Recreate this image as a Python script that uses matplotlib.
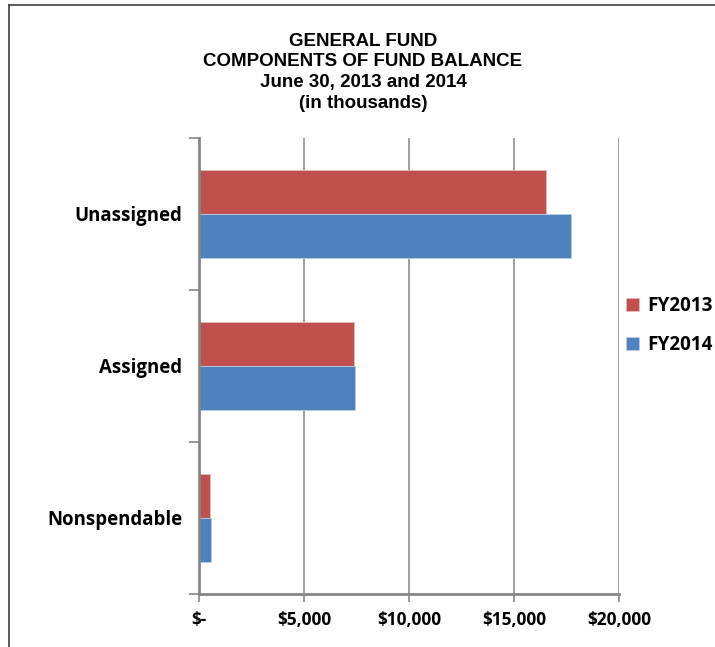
import numpy as np
import matplotlib
matplotlib.use("Agg")
import matplotlib.pyplot as plt
from matplotlib.lines import Line2D
from matplotlib.ticker import FuncFormatter

categories = ['Nonspendable', 'Assigned', 'Unassigned']
fy2013 = [520, 7400, 16500]
fy2014 = [590, 7450, 17700]
series_names = ['FY2013', 'FY2014']
title_lines = ['GENERAL FUND', 'COMPONENTS OF FUND BALANCE',
               'June 30, 2013 and 2014', '(in thousands)']

red = '#C0504D'
blue = '#4F81BD'
grey = '#868686'
label_font = 'Open Sans'

fig = plt.figure(figsize=(7.15, 6.47), dpi=100)
ax = fig.add_axes([199 / 715, 1 - 594 / 647, 420 / 715, 456 / 647])

y = np.arange(len(categories))
h = 0.29
ax.barh(y + h / 2, fy2013, height=h, color=red, edgecolor='#E6B9B8', linewidth=0.6,
        label=series_names[0], zorder=3)
ax.barh(y - h / 2, fy2014, height=h, color=blue, edgecolor='#B9CDE5', linewidth=0.6,
        label=series_names[1], zorder=3)

ax.set_xlim(0, 20000)
ax.set_ylim(-0.5, 2.5)
ax.set_xticks([0, 5000, 10000, 15000, 20000])
ax.xaxis.set_major_formatter(FuncFormatter(lambda v, p: '$-' if v == 0 else f'${v:,.0f}'))

# category labels centered between boundary ticks
ax.set_yticks([-0.5, 0.5, 1.5, 2.5])
ax.set_yticklabels([])
ax.set_yticks(y, minor=True)
ax.set_yticklabels(categories, minor=True)
ax.tick_params(axis='y', which='minor', length=0, pad=12)
ax.tick_params(axis='y', which='major', length=7, width=1.2, color=grey)
ax.tick_params(axis='x', length=6, width=1.2, color=grey, pad=6)

for lab in ax.get_yticklabels(minor=True):
    lab.set_fontfamily(label_font)
    lab.set_fontweight('bold')
    lab.set_fontsize(13.4)
for lab in ax.get_xticklabels():
    lab.set_fontfamily(label_font)
    lab.set_fontweight('bold')
    lab.set_fontsize(12.4)

ax.grid(axis='x', color=grey, linewidth=1.1, zorder=0)
for s in ['top', 'right']:
    ax.spines[s].set_visible(False)
for s in ['left', 'bottom']:
    ax.spines[s].set_color(grey)
    ax.spines[s].set_linewidth(2)
ax.spines['left'].set_zorder(4)

leg = fig.legend(loc='upper left', bbox_to_anchor=(626 / 715, 1 - 296 / 647),
                 frameon=False, handlelength=0.7, handleheight=0.7,
                 handletextpad=0.4, labelspacing=1.0, borderpad=0, borderaxespad=0,
                 prop={'family': label_font, 'weight': 'bold', 'size': 13.6})

title_y = [42, 61, 82, 104]
for t, ty in zip(title_lines, title_y):
    fig.text(363 / 715, 1 - ty / 647, t, ha='center', va='center',
             fontfamily='Liberation Sans', fontweight='bold', fontsize=13.5)

# outer frame: left and top edges
fig.add_artist(Line2D([9 / 715, 9 / 715], [0, 1 - 5 / 647], transform=fig.transFigure,
                      color='#404040', linewidth=1.2))
fig.add_artist(Line2D([9 / 715, 1], [1 - 5 / 647, 1 - 5 / 647], transform=fig.transFigure,
                      color='#404040', linewidth=1.2))

fig.savefig('out.png', dpi=100)
